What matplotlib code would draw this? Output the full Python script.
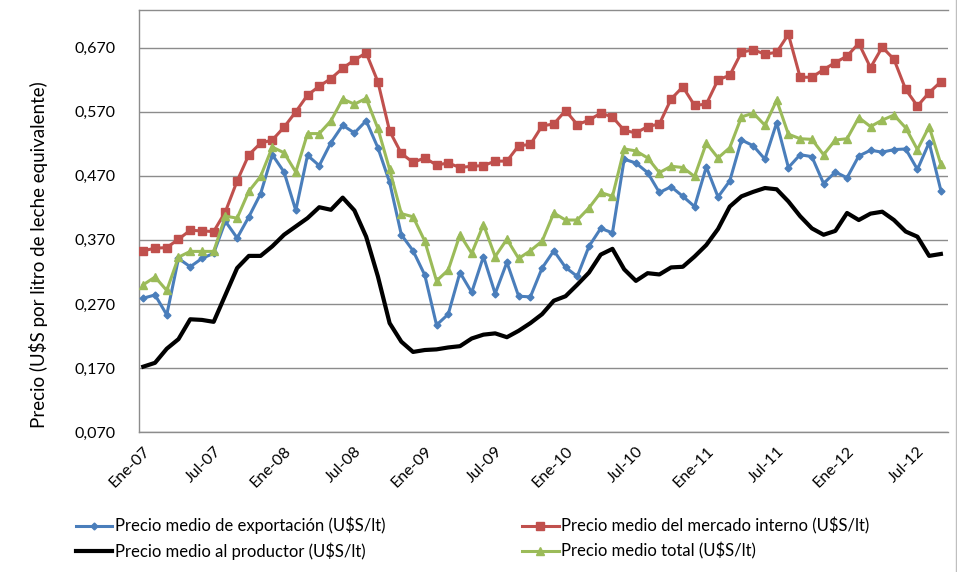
import matplotlib
matplotlib.use("Agg")
import matplotlib.pyplot as plt
from matplotlib.lines import Line2D

plt.rcParams['font.family'] = ['Lato', 'DejaVu Sans']

# monthly series, Ene-07 .. Sep-12
meses = ['Ene', 'Feb', 'Mar', 'Abr', 'May', 'Jun', 'Jul', 'Ago', 'Sep', 'Oct', 'Nov', 'Dic']
etiquetas = [m + '-' + '%02d' % a for a in range(7, 13) for m in meses][:69]

exportacion = [0.279, 0.284, 0.253, 0.341, 0.328, 0.341, 0.349, 0.399, 0.373, 0.406,
               0.442, 0.503, 0.476, 0.416, 0.502, 0.486, 0.522, 0.549, 0.537, 0.556,
               0.514, 0.460, 0.378, 0.353, 0.315, 0.237, 0.254, 0.319, 0.288, 0.344,
               0.286, 0.335, 0.282, 0.281, 0.326, 0.353, 0.327, 0.313, 0.360, 0.388,
               0.381, 0.496, 0.490, 0.475, 0.444, 0.453, 0.438, 0.422, 0.484, 0.437,
               0.462, 0.526, 0.517, 0.496, 0.553, 0.483, 0.503, 0.500, 0.458, 0.476,
               0.467, 0.501, 0.510, 0.507, 0.511, 0.512, 0.480, 0.522, 0.447]

interno = [0.353, 0.357, 0.358, 0.371, 0.385, 0.384, 0.383, 0.414, 0.462, 0.503,
           0.521, 0.526, 0.546, 0.570, 0.596, 0.610, 0.622, 0.638, 0.651, 0.662,
           0.617, 0.540, 0.505, 0.491, 0.498, 0.487, 0.490, 0.483, 0.485, 0.486,
           0.493, 0.493, 0.517, 0.519, 0.548, 0.551, 0.572, 0.550, 0.557, 0.568,
           0.562, 0.541, 0.537, 0.547, 0.551, 0.590, 0.609, 0.580, 0.582, 0.620,
           0.627, 0.663, 0.667, 0.660, 0.663, 0.691, 0.624, 0.624, 0.636, 0.647,
           0.657, 0.677, 0.639, 0.671, 0.652, 0.605, 0.579, 0.600, 0.617]

productor = [0.172, 0.178, 0.200, 0.215, 0.246, 0.245, 0.242, 0.284, 0.326, 0.345,
             0.345, 0.360, 0.378, 0.391, 0.404, 0.421, 0.417, 0.436, 0.416, 0.375,
             0.313, 0.240, 0.211, 0.195, 0.198, 0.199, 0.202, 0.204, 0.216, 0.222,
             0.224, 0.218, 0.228, 0.240, 0.254, 0.275, 0.282, 0.300, 0.319, 0.347,
             0.356, 0.324, 0.306, 0.318, 0.316, 0.327, 0.328, 0.344, 0.362, 0.387,
             0.422, 0.438, 0.445, 0.451, 0.449, 0.430, 0.407, 0.388, 0.378, 0.384,
             0.412, 0.401, 0.411, 0.414, 0.401, 0.383, 0.375, 0.345, 0.348]

total = [0.300, 0.312, 0.291, 0.343, 0.352, 0.352, 0.352, 0.407, 0.404, 0.446,
         0.469, 0.515, 0.506, 0.476, 0.536, 0.536, 0.556, 0.590, 0.582, 0.591,
         0.544, 0.480, 0.411, 0.406, 0.368, 0.306, 0.323, 0.378, 0.349, 0.394,
         0.344, 0.371, 0.341, 0.353, 0.368, 0.412, 0.401, 0.401, 0.420, 0.444,
         0.438, 0.512, 0.509, 0.498, 0.475, 0.485, 0.483, 0.469, 0.521, 0.498,
         0.514, 0.562, 0.568, 0.549, 0.588, 0.535, 0.528, 0.527, 0.503, 0.526,
         0.528, 0.561, 0.547, 0.557, 0.565, 0.545, 0.511, 0.547, 0.488]

yticks = [0.070, 0.170, 0.270, 0.370, 0.470, 0.570, 0.670]

x = list(range(len(etiquetas)))

fig = plt.figure(figsize=(9.57, 5.72), dpi=100)
ax = fig.add_axes([0.1452, 0.2448, 0.8458, 0.7377])

azul = '#4a7ebb'
rojo = '#c0504d'
verde = '#9bbb59'

ax.plot(x, exportacion, color=azul, lw=2.2, marker='D', ms=3.5, zorder=3)
ax.plot(x, interno, color=rojo, lw=2.2, marker='s', ms=6, zorder=3)
ax.plot(x, productor, color='black', lw=3, zorder=3)
ax.plot(x, total, color=verde, lw=2.2, marker='^', ms=5.5, zorder=3)

ax.set_xlim(-0.37, 68.64)
ax.set_ylim(0.070, 0.729)
ax.set_yticks(yticks)
ax.yaxis.set_major_formatter(matplotlib.ticker.FuncFormatter(lambda v, p: ('%.3f' % v).replace('.', ',')))
ax.set_xticks(x[::6])
ax.set_xticklabels(etiquetas[::6], rotation=45, ha='right', rotation_mode='anchor')
ax.tick_params(axis='y', length=0, labelsize=11.5, colors='black', pad=17)
ax.tick_params(axis='x', length=0, labelsize=11.5, colors='black', pad=9)

ax.grid(axis='y', color='#8c8c8c', lw=1)
ax.set_axisbelow(True)
for s in ['left', 'bottom', 'top']:
    ax.spines[s].set_color('#8c8c8c')
    ax.spines[s].set_linewidth(1)
ax.spines['right'].set_visible(False)

ax.set_ylabel('Precio (U$S por litro de leche equivalente)', fontsize=13.5)
ax.yaxis.set_label_coords(-0.112, 0.42)

handles = [
    Line2D([], [], color=azul, lw=2.2, marker='D', ms=3.5),
    Line2D([], [], color='black', lw=3),
    Line2D([], [], color=rojo, lw=2.2, marker='s', ms=6),
    Line2D([], [], color=verde, lw=2.2, marker='^', ms=5.5),
]
labels = ['Precio medio de exportación (U$S/lt)',
          'Precio medio al productor (U$S/lt)',
          'Precio medio del mercado interno (U$S/lt)',
          'Precio medio total (U$S/lt)']
fig.legend(handles, labels, ncol=2, frameon=False, fontsize=12,
           loc='upper left', bbox_to_anchor=(0.072, 0.108),
           handlelength=2.2, handletextpad=0.15, columnspacing=8.2,
           labelspacing=0.5, borderaxespad=0)

fig.add_artist(Line2D([0.9985, 0.9985], [0, 1], color='#bfbfbf', lw=1))

fig.savefig('out.png', dpi=100)
